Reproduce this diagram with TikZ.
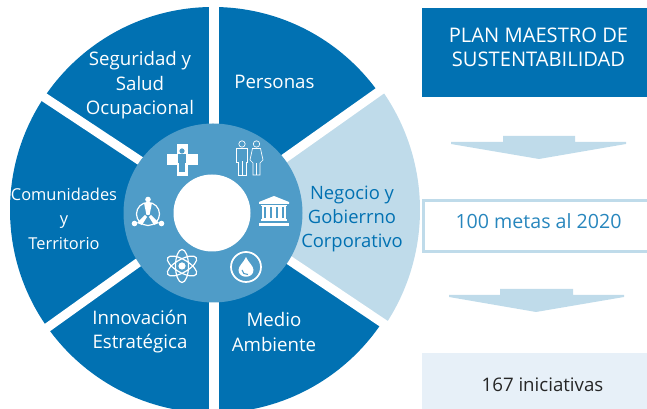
\documentclass[tikz,border=0pt]{standalone}
\usepackage{fontspec}
\setmainfont{Open Sans}
\definecolor{azul}{HTML}{0171B2}
\definecolor{azulmedio}{HTML}{4F9CC8}
\definecolor{celeste}{HTML}{BFDBEA}
\definecolor{palido}{HTML}{E7F0F8}
\tikzset{
  rotulo/.style={align=center, inner sep=0pt, text=white, font=\fontsize{14}{18.3}\selectfont},
  icono/.style={draw=white, line width=.9pt, fill=none},
}
\begin{document}
\begin{tikzpicture}[x=.75pt, y=.75pt]
\useasboundingbox (0,0) rectangle (647,409);
\clip (0,0) rectangle (647,409);
% Wheel
\begin{scope}[shift={(213,199)}]
\fill[azul] (0,0) circle (203);
\fill[celeste] (0,0) -- (35:207) arc (35:-34:207) -- cycle;
\draw[white, line width=7.5pt] (1,0) -- (1,215);
\draw[white, line width=7.5pt] (1,0) -- (1,-215);
\draw[white, line width=6.75pt] (0,1) -- +(35.3:225);
\draw[white, line width=6.75pt] (0,1) -- +(-33.9:225);
\draw[white, line width=6.75pt] (0,1) -- +(146.5:225);
\draw[white, line width=6.75pt] (0,1) -- +(215.6:225);
\fill[azulmedio] (0,-3) circle (89.5);
\fill[white] (-1,-3) circle (38.5);
\end{scope}
% Labels
\node[rotulo] (seguridad) at (140,323.5) {Seguridad y\\Salud\\Ocupacional};
\node[rotulo, anchor=west] (personas) at (234,327.5) {Personas};
\node[rotulo, font=\fontsize{12.3}{18.3}\selectfont] (comunidades) at (64,190.5) {Comunidades\\y\\Territorio};
\node[rotulo, text=azul, font=\fontsize{13.8}{18.3}\selectfont] (negocio) at (352,190) {Negocio y\\Gobierrno\\Corporativo};
\node[rotulo] (innovacion) at (140,77.5) {Innovación\\Estratégica};
\node[rotulo] (medio) at (274,77) {Medio\\Ambiente};
% Cross
\begin{scope}[shift={(182,249)}]
\fill[white] (-15.5,-5.5) rectangle (15.5,5.5);
\fill[white] (-5.5,-16) rectangle (5.5,16);
\fill[azulmedio] (0,9) circle (2.6);
\fill[azulmedio] (-4,5.5) rectangle (4,-3);
\fill[azulmedio] (-2.6,-3) rectangle (2.6,-12);
\end{scope}
% People
\begin{scope}[shift={(249,251)}, white, line width=.5pt]
\draw (-7,14) circle (3.2);
\draw (-12.5,9.5) -- (-1.5,9.5) -- (-1.5,-4) -- (-3,-4) -- (-3,-17) -- (-10.5,-17) -- (-10.5,-4) -- (-12.5,-4) -- cycle;
\draw (-7,-17) -- (-7,-3);
\draw (7.5,14) circle (3.2);
\draw (3.5,9.5) -- (11.5,9.5) -- (14,-2) -- (11,-5) -- (11,-17) -- (4,-17) -- (4,-5) -- (1,-2) -- cycle;
\draw (7.5,-17) -- (7.5,-5);
\end{scope}
% Bank
\begin{scope}[shift={(274,196)}]
\fill[white] (-15,11) -- (0,17) -- (15,11) -- (15,9) -- (-15,9) -- cycle;
\fill[white] (-15,-10) rectangle (15,-13);
\fill[white] (-13,6.5) rectangle (13,8);
\fill[white] (-13,-6) rectangle (13,-8);
\foreach \xcol in {-11,-5,1,7}
  \draw[white, line width=.8pt] (\xcol,6.5) rectangle ++(4,-12.5);
\end{scope}
% Drop
\begin{scope}[shift={(246,142)}]
\draw[icono, line width=1.3pt] (0,0) circle (15);
\fill[white] (0,10) .. controls (-2,5) and (-7.5,1) .. (-7.5,-3) .. controls (-7.5,-12) and (7.5,-12) .. (7.5,-3) .. controls (7.5,1) and (2,5) .. (0,10) -- cycle;
\draw[azulmedio, line width=.8pt] (-4,-3) .. controls (-4,-6) and (-1,-8) .. (2,-7.5);
\end{scope}
% Atom
\begin{scope}[shift={(182,143)}]
\fill[white] (0,0) circle (3.6);
\draw[icono, rotate=90] (0,0) ellipse (16.5 and 6.5);
\draw[icono, rotate=30] (0,0) ellipse (16.5 and 6.5);
\draw[icono, rotate=150] (0,0) ellipse (16.5 and 6.5);
\end{scope}
% Community
\begin{scope}[shift={(148,195)}]
\draw[icono] (0,0) circle (11.5);
\fill[white] (0,14.5) circle (2.8);
\fill[white] (-13.5,-9.5) circle (2.8);
\fill[white] (13.5,-9.5) circle (2.8);
\fill[white] (-4,11) -- (4,11) -- (1.5,-1) -- (-1.5,-1) -- cycle;
\fill[white] (-11,-9) -- (-6,-11) -- (-1,-3) -- (-3,-1) -- cycle;
\fill[white] (11,-9) -- (6,-11) -- (1,-3) -- (3,-1) -- cycle;
\end{scope}
% Right column
\fill[azul] (422,312) rectangle (647,401);
\node[rotulo, font=\fontsize{15.1}{18.3}\selectfont] (plan) at (538.5,361.5) {PLAN MAESTRO DE\\SUSTENTABILIDAD};
\draw[celeste, line width=2.2pt] (423.5,157.5) rectangle (650,208.5);
\node[rotulo, text=azul!85!white, font=\fontsize{14.7}{18.3}\selectfont] (metas) at (538.5,187.5) {100 metas al 2020};
\fill[palido] (422,0) rectangle (647,56);
\node[rotulo, text=black!85] (iniciativas) at (542.5,24.5) {167 iniciativas};
% Arrows
\fill[celeste] (503,273) -- (575,273) -- (575,267) -- (626,267) -- (626,265) -- (539,250) -- (451,265) -- (451,267) -- (503,267) -- cycle;
\fill[celeste] (500,120) -- (573,120) -- (573,114) -- (624,114) -- (624,112) -- (536,97) -- (449,112) -- (449,114) -- (500,114) -- cycle;
\end{tikzpicture}
\end{document}
